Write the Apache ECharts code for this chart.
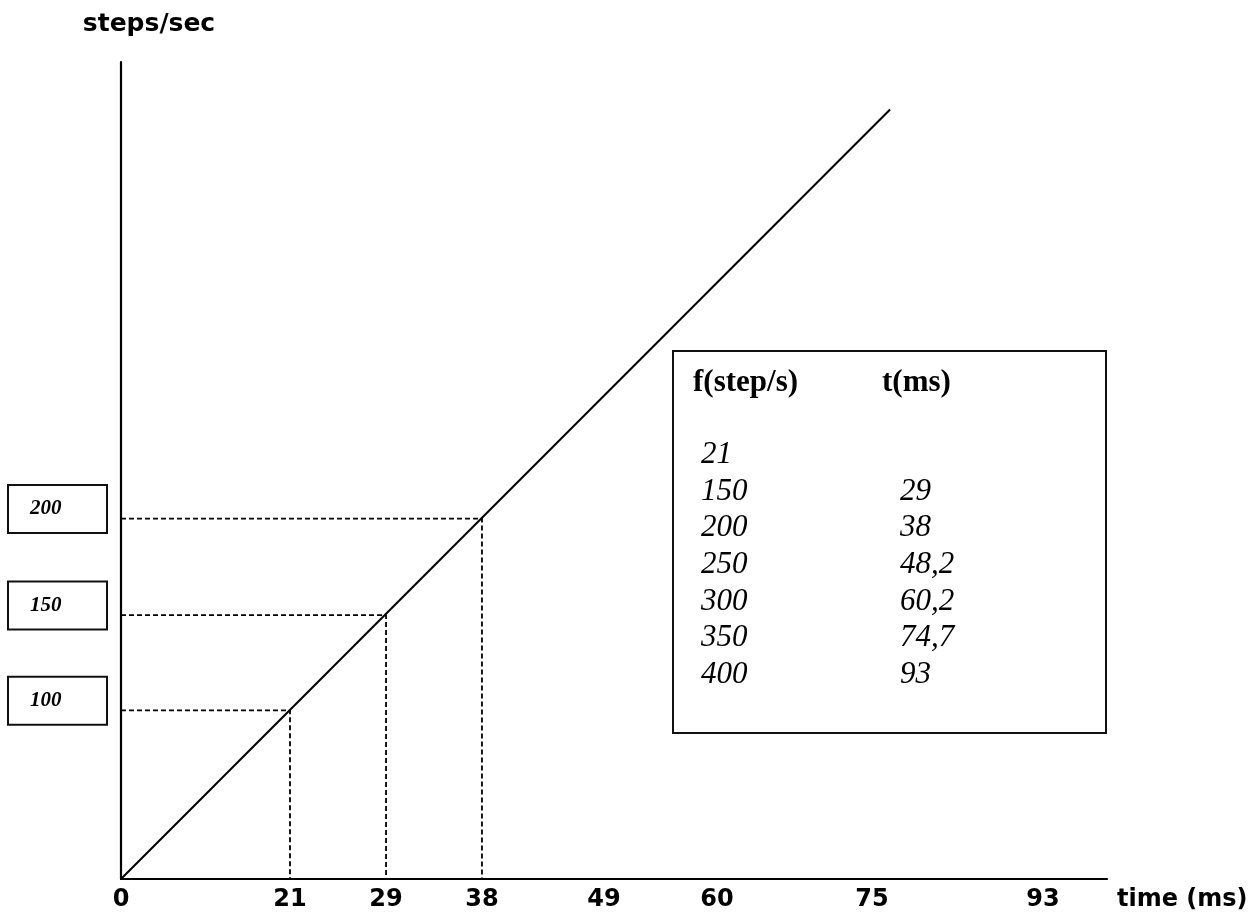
<!DOCTYPE html>
<html>
<head>
<meta charset="utf-8">
<script src="https://cdn.jsdelivr.net/npm/echarts@6/dist/echarts.min.js"></script>
<style>
  html, body { margin: 0; padding: 0; background: #fff; }
  #chart { width: 1257px; height: 913px; }
</style>
</head>
<body>
<div id="chart"></div>
<script>
// ---- data (schematic drawing units: axis length = 100) ----
const xTickText = ['0', '21', '29', '38', '49', '60', '75', '93'];
const xTickAt   = [0, 17.14, 26.88, 36.61, 48.99, 60.45, 76.17, 93.51];

const yTickText = ['100', '150', '200'];
const yTickAt   = [20.65, 32.31, 44.12];

// the ramp line (start, end)
const rampX = [0, 78.0];
const rampY = [0, 94.19];

// marked points on the ramp (steps/sec 100,150,200 at 21,29,38 ms)
const markX = [17.14, 26.88, 36.61];
const markY = [20.65, 32.31, 44.12];

// table content
const tableHead = ['f(step/s)', 't(ms)'];
const tableF = ['21', '150', '200', '250', '300', '350', '400'];
const tableT = ['', '29', '38', '48,2', '60,2', '74,7', '93'];

// ---- chart ----
const chart = echarts.init(document.getElementById('chart'), null, { renderer: 'canvas' });

function lookup(vals, texts, v) {
  for (let i = 0; i < vals.length; i++) if (Math.abs(vals[i] - v) < 1e-6) return texts[i];
  return '';
}

const series = [{
  type: 'line',
  data: rampX.map((x, i) => [x, rampY[i]]),
  symbol: 'none',
  lineStyle: { color: '#000', width: 2 },
  z: 3
}];
markX.forEach((x, i) => {
  series.push({
    type: 'line',
    data: [[0, markY[i]], [x, markY[i]], [x, 0]],
    symbol: 'none',
    lineStyle: { color: '#000', width: 1.8, type: [5, 3] },
    z: 2
  });
});

const sans = 'DejaVu Sans';
const serif = 'Liberation Serif';

// table graphics
const tbl = { left: 673, top: 351, width: 433, height: 382 };
const graphics = [{
  type: 'rect',
  shape: { x: tbl.left, y: tbl.top, width: tbl.width, height: tbl.height },
  style: { fill: '#fff', stroke: '#111', lineWidth: 2 },
  z: 10
}];
const col1 = tbl.left + 28, col2 = tbl.left + 227;
graphics.push({ type: 'text', x: tbl.left + 20, y: tbl.top + 32, z: 11,
  style: { text: tableHead[0], font: 'bold 31px "' + serif + '"', fill: '#000', verticalAlign: 'middle' } });
graphics.push({ type: 'text', x: tbl.left + 209, y: tbl.top + 32, z: 11,
  style: { text: tableHead[1], font: 'bold 31px "' + serif + '"', fill: '#000', verticalAlign: 'middle' } });
tableF.forEach((f, i) => {
  const y = tbl.top + 104 + i * 36.6;
  graphics.push({ type: 'text', x: col1, y: y, z: 11,
    style: { text: f, font: 'italic 31px "' + serif + '"', fill: '#000', verticalAlign: 'middle' } });
  if (tableT[i]) graphics.push({ type: 'text', x: col2, y: y, z: 11,
    style: { text: tableT[i], font: 'italic 31px "' + serif + '"', fill: '#000', verticalAlign: 'middle' } });
});

chart.setOption({
  animation: false,
  backgroundColor: '#fff',
  grid: { left: 121, right: 150, top: 62, bottom: 34, containLabel: false },
  xAxis: {
    type: 'value', min: 0, max: 100,
    name: 'time (ms)', nameLocation: 'end', nameGap: 10,
    nameTextStyle: { fontFamily: sans, fontWeight: 'bold', fontSize: 24, color: '#000', align: 'left', verticalAlign: 'top', padding: [9, 0, 0, 0] },
    axisLine: { show: true, onZero: false, lineStyle: { color: '#000', width: 2.2 } },
    axisTick: { show: false },
    splitLine: { show: false },
    axisLabel: {
      customValues: xTickAt,
      formatter: v => lookup(xTickAt, xTickText, v),
      fontFamily: sans, fontWeight: 'bold', fontSize: 24, color: '#000', margin: 9
    }
  },
  yAxis: {
    type: 'value', min: 0, max: 100,
    name: 'steps/sec', nameLocation: 'end', nameGap: 38,
    nameTextStyle: { fontFamily: sans, fontWeight: 'bold', fontSize: 25, color: '#000', align: 'center', verticalAlign: 'middle', padding: [0, 0, 0, 56] },
    axisLine: { show: true, onZero: false, lineStyle: { color: '#000', width: 2.2 } },
    axisTick: { show: false },
    splitLine: { show: false },
    axisLabel: {
      customValues: yTickAt,
      margin: 15,
      padding: [0, 0, 19, 0],
      formatter: v => '{b|' + lookup(yTickAt, yTickText, v) + '}',
      rich: {
        b: {
          width: 76, height: 46, align: 'left', verticalAlign: 'middle',
          padding: [0, 0, 0, 21],
          borderColor: '#111', borderWidth: 2, backgroundColor: '#fff',
          fontFamily: serif, fontStyle: 'italic', fontWeight: 'bold', fontSize: 21, color: '#000'
        }
      }
    }
  },
  series: series,
  graphic: graphics
});
</script>
</body>
</html>
